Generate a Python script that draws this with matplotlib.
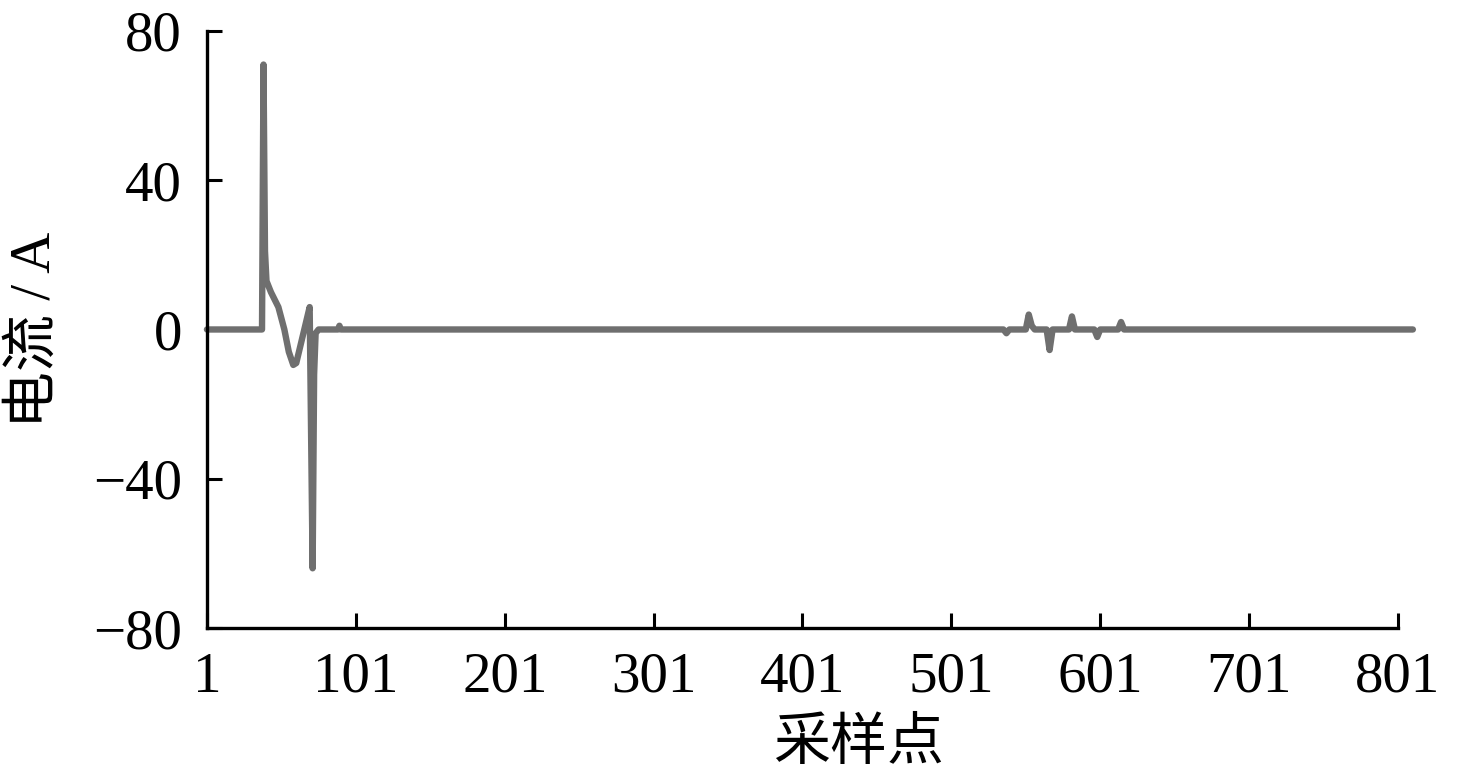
import matplotlib
matplotlib.use('Agg')
import matplotlib.pyplot as plt

# breakpoints of the current trace (sample index, current in A)
sample_idx = [1, 38, 39, 40, 41, 44, 49, 53, 56, 59, 61, 64, 67, 70, 72, 73,
              74, 76, 89, 90, 91, 536, 538, 540, 551, 553, 555, 557, 565, 567,
              569, 580, 582, 584, 597, 599, 601, 613, 615, 617, 811]
current = [0, 0, 71, 21, 13, 10, 6, 0, -6, -9.5, -9, -4, 1, 6, -64, -12,
           -1, 0, 0, 1, 0, 0, -1, 0, 0, 4, 1, 0, 0, -5.5,
           0, 0, 3.5, 0, 0, -2, 0, 0, 2, 0, 0]

x_ticks = [1, 101, 201, 301, 401, 501, 601, 701, 801]
y_ticks = [-80, -40, 0, 40, 80]
y_ticklabels = ['\u221280', '\u221240', '0', '40', '80']

LINE_COLOR = '#6f6f6f'
FONT = ['Liberation Serif', 'Noto Sans CJK SC']

plt.rcParams['font.family'] = FONT
plt.rcParams['axes.unicode_minus'] = True

fig = plt.figure(figsize=(14.77, 7.78), dpi=100)
ax = fig.add_axes([0.1401, 0.1928, 0.8064, 0.7674])

ax.plot(sample_idx, current, color=LINE_COLOR, linewidth=4.6,
        solid_capstyle='round', solid_joinstyle='round', clip_on=False)

ax.set_xlim(1, 801)
ax.set_ylim(-80, 80)
ax.set_xticks(x_ticks)
ax.set_xticklabels([str(v) for v in x_ticks])
ax.set_yticks(y_ticks)
ax.set_yticklabels(y_ticklabels)

for side in ('top', 'right'):
    ax.spines[side].set_visible(False)
for side in ('left', 'bottom'):
    ax.spines[side].set_linewidth(2.4)
    ax.spines[side].set_color('black')

ax.tick_params(direction='in', length=11, width=2.2, labelsize=41,
               colors='black')
ax.tick_params(axis='x', pad=17)
ax.tick_params(axis='y', pad=18)

ax.set_xlabel('采样点', fontsize=41)
ax.set_ylabel('电流 / A', fontsize=41)
ax.xaxis.set_label_coords(0.547, -0.150)
ax.yaxis.set_label_coords(-0.122, 0.50)

fig.savefig('out.png', dpi=100, facecolor='white')
plt.close(fig)
